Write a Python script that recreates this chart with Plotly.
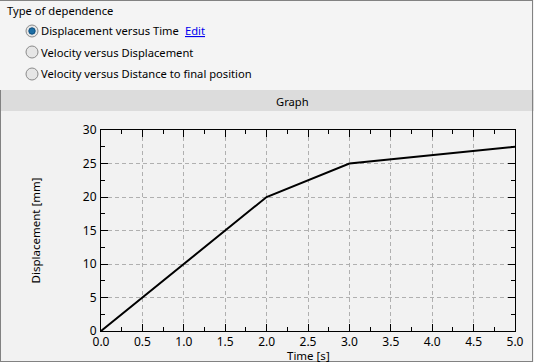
import plotly.graph_objects as go

# Data
time_s = [0.0, 2.0, 3.0, 5.0]
displacement_mm = [0.0, 20.0, 25.0, 27.5]
x_ticks = [0.0, 0.5, 1.0, 1.5, 2.0, 2.5, 3.0, 3.5, 4.0, 4.5, 5.0]
y_ticks = [0, 5, 10, 15, 20, 25, 30]
options = ["Displacement versus Time", "Velocity versus Displacement",
           "Velocity versus Distance to final position"]

W, H = 534, 362
L, R, T, B = 101, 515, 130, 331
FONT = "Noto Sans"
FS = 11


def px(x):
    return (x - L) / (R - L)


def py(y):
    return (B - y) / (B - T)


fig = go.Figure()
fig.add_trace(go.Scatter(x=time_s, y=displacement_mm, mode="lines",
                         line=dict(color="black", width=2), hoverinfo="skip",
                         showlegend=False))

shapes = []
shapes.append(dict(type="rect", xref="paper", yref="paper", x0=px(0), x1=px(W),
                   y0=py(90), y1=py(0), fillcolor="#f4f4f4", line_width=0, layer="below"))
shapes.append(dict(type="rect", xref="paper", yref="paper", x0=px(0), x1=px(W),
                   y0=py(111), y1=py(90), fillcolor="#dcdcdc", line_width=0, layer="below"))
border = dict(color="#828282", width=1)
shapes.append(dict(type="line", xref="paper", yref="paper", x0=px(532.5), x1=px(532.5),
                   y0=py(0), y1=py(361.5), line=border))
shapes.append(dict(type="line", xref="paper", yref="paper", x0=px(0.5), x1=px(0.5),
                   y0=py(90), y1=py(361.5), line=border))
shapes.append(dict(type="line", xref="paper", yref="paper", x0=px(0), x1=px(533),
                   y0=py(361.5), y1=py(361.5), line=border))
shapes.append(dict(type="line", xref="paper", yref="paper", x0=px(0), x1=px(533),
                   y0=py(0.5), y1=py(0.5), line=border))

annotations = []
annotations.append(dict(text="Type of dependence", x=px(5), y=py(10), xref="paper", yref="paper",
                        xanchor="left", yanchor="middle", showarrow=False,
                        font=dict(family=FONT, size=FS + 0.2, color="black")))
rows = [31, 52, 74]
for i, (label, ry) in enumerate(zip(options, rows)):
    cx = 32
    shapes.append(dict(type="circle", xref="paper", yref="paper",
                       x0=px(cx - 6), x1=px(cx + 6), y0=py(ry + 6), y1=py(ry - 6),
                       fillcolor="#e6e6e6", line=dict(color="#8a8a8a", width=1)))
    if i == 0:
        shapes.append(dict(type="circle", xref="paper", yref="paper",
                           x0=px(cx - 3.2), x1=px(cx + 3.2), y0=py(ry + 3.2), y1=py(ry - 3.2),
                           fillcolor="#1c6ea4", line=dict(color="#0d4f80", width=1)))
    annotations.append(dict(text=label, x=px(39), y=py(ry), xref="paper", yref="paper",
                            xanchor="left", yanchor="middle", showarrow=False,
                            font=dict(family=FONT, size=FS + 0.2, color="black")))
annotations.append(dict(text="<u>Edit</u>", x=px(183), y=py(31), xref="paper", yref="paper",
                        xanchor="left", yanchor="middle", showarrow=False,
                        font=dict(family=FONT, size=FS + 0.2, color="#0000ee")))
annotations.append(dict(text="Graph", x=px(292), y=py(101), xref="paper", yref="paper",
                        xanchor="center", yanchor="middle", showarrow=False,
                        font=dict(family=FONT, size=FS + 0.2, color="black")))
annotations.append(dict(text="Time [s]", x=px(308), y=py(355), xref="paper", yref="paper",
                        xanchor="center", yanchor="middle", showarrow=False,
                        font=dict(family=FONT, size=FS + 0.5, color="black")))

axis_common = dict(showline=True, linecolor="black", linewidth=1, mirror="ticks",
                   ticks="inside", ticklen=7, tickcolor="black", tickwidth=1,
                   showgrid=True, gridcolor="#b0b0b0", griddash="4px,3px", gridwidth=1,
                   zeroline=False, tickfont=dict(family=FONT, size=FS + 1, color="black"),
                   fixedrange=True, automargin=False)

fig.update_layout(
    width=W, height=H,
    margin=dict(l=L, r=W - R, t=T, b=H - B),
    paper_bgcolor="#f2f2f2", plot_bgcolor="#f2f2f2",
    shapes=shapes, annotations=annotations,
    xaxis=dict(range=[0, 5], tickvals=x_ticks, ticktext=[f"{v:.1f}" for v in x_ticks],
               minor=dict(ticks="inside", ticklen=4, dtick=0.25, tickcolor="black", showgrid=False),
               ticklabelstandoff=0,
               **axis_common),
    yaxis=dict(range=[0, 30], tickvals=y_ticks, ticktext=[str(v) for v in y_ticks],
               minor=dict(ticks="inside", ticklen=4, dtick=2.5, tickcolor="black", showgrid=False),
               title=dict(text="Displacement [mm]", standoff=39, font=dict(family=FONT, size=FS + 0.5, color="black")),
               ticklabelstandoff=1,
               **axis_common),
    showlegend=False,
)

fig.write_html("out.html", config={"displayModeBar": False})
